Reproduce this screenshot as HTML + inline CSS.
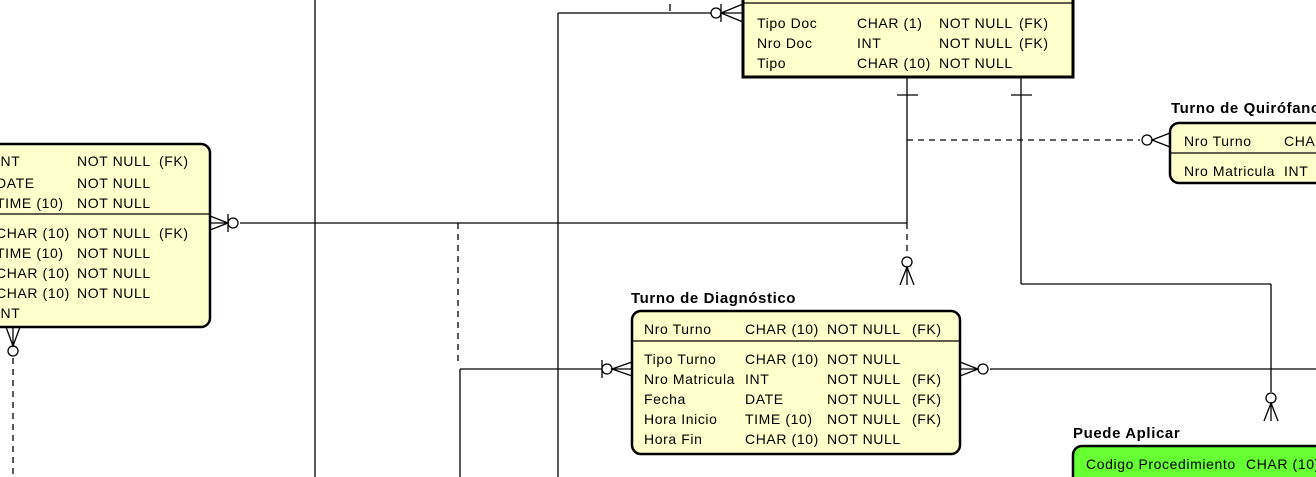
<!DOCTYPE html>
<html><head><meta charset="utf-8"><style>
html,body{margin:0;padding:0;background:#fff;width:1316px;height:477px;overflow:hidden;}
svg{display:block;font-family:"Liberation Sans",sans-serif;}
.t{font-size:14px;fill:#000;letter-spacing:0.6px;}
.h{font-size:15px;font-weight:bold;fill:#000;letter-spacing:0.6px;}
</style></head><body>
<svg width="1316" height="477" viewBox="0 0 1316 477" xmlns="http://www.w3.org/2000/svg" style="overflow:hidden">
<g stroke="#000" stroke-width="1.3" fill="none">
<line x1="315" y1="0" x2="315" y2="477"/>
<line x1="558" y1="13" x2="558" y2="477"/>
<line x1="558" y1="13" x2="718" y2="13"/>
<line x1="670" y1="4" x2="670" y2="11"/>
<line x1="240" y1="223" x2="907" y2="223"/>
<line x1="907" y1="78" x2="907" y2="223"/>
<line x1="460" y1="369" x2="460" y2="477"/>
<line x1="460" y1="369" x2="602" y2="369"/>
<line x1="1021" y1="78" x2="1021" y2="284"/>
<line x1="1021" y1="284" x2="1271" y2="284"/>
<line x1="1271" y1="284" x2="1271" y2="392"/>
<line x1="990" y1="369" x2="1316" y2="369"/>
<g stroke-dasharray="6,5">
<line x1="458" y1="223" x2="458" y2="366"/>
<line x1="907" y1="223" x2="907" y2="256"/>
<line x1="907" y1="140" x2="1140" y2="140"/>
<line x1="13" y1="358" x2="13" y2="477"/>
</g>
<line x1="897" y1="95" x2="918" y2="95"/>
<line x1="1011" y1="95" x2="1032" y2="95"/>
<line x1="228" y1="214" x2="228" y2="232"/>
<line x1="721" y1="4" x2="721" y2="22"/>
<line x1="602" y1="360" x2="602" y2="378"/>
<circle cx="233" cy="223" r="5" fill="#fff"/>
<circle cx="716" cy="13" r="5" fill="#fff"/>
<circle cx="607" cy="369" r="5" fill="#fff"/>
<circle cx="983" cy="369" r="5" fill="#fff"/>
<circle cx="907" cy="262" r="5" fill="#fff"/>
<circle cx="1147" cy="140" r="5" fill="#fff"/>
<circle cx="1271" cy="398" r="5" fill="#fff"/>
<circle cx="13" cy="351" r="5" fill="#fff"/>
<path d="M210 216 L228 223 L210 230 M210 223 L228 223"/>
<path d="M743 4 L721 13 L743 22 M721 13 L743 13"/>
<path d="M632 362 L612 369 L632 376 M612 369 L632 369"/>
<path d="M960 362 L978 369 L960 376 M960 369 L978 369"/>
<path d="M900 285 L907 267 L914 285 M907 267 L907 285"/>
<path d="M1170 133 L1152 140 L1170 147"/>
<path d="M1264 421 L1271 403 L1278 421 M1271 403 L1271 421"/>
<path d="M6 327 L13 346 L20 327 M13 327 L13 346"/>
</g>

<rect x="743" y="-10" width="330" height="87" fill="#ffffcc" stroke="#000" stroke-width="3"/>
<line x1="743" y1="3" x2="1073" y2="3" stroke="#000" stroke-width="1.3"/>
<g class="t">
<text x="757" y="28">Tipo Doc</text><text x="857" y="28">CHAR (1)</text><text x="939" y="28">NOT NULL</text><text x="1019" y="28">(FK)</text>
<text x="757" y="48">Nro Doc</text><text x="857" y="48">INT</text><text x="939" y="48">NOT NULL</text><text x="1019" y="48">(FK)</text>
<text x="757" y="68">Tipo</text><text x="857" y="68">CHAR (10)</text><text x="939" y="68">NOT NULL</text>
</g>

<rect x="-20" y="144" width="230" height="183" rx="9" fill="#ffffcc" stroke="#000" stroke-width="2.5"/>
<line x1="0" y1="214" x2="210" y2="214" stroke="#000" stroke-width="1.3"/>
<g class="t">
<text x="-4" y="166">INT</text><text x="77" y="166">NOT NULL</text><text x="159" y="166">(FK)</text>
<text x="-4" y="188">DATE</text><text x="77" y="188">NOT NULL</text>
<text x="-4" y="208">TIME (10)</text><text x="77" y="208">NOT NULL</text>
<text x="-4" y="238">CHAR (10)</text><text x="77" y="238">NOT NULL</text><text x="159" y="238">(FK)</text>
<text x="-4" y="258">TIME (10)</text><text x="77" y="258">NOT NULL</text>
<text x="-4" y="278">CHAR (10)</text><text x="77" y="278">NOT NULL</text>
<text x="-4" y="298">CHAR (10)</text><text x="77" y="298">NOT NULL</text>
<text x="-4" y="318">INT</text>
</g>

<text class="h" x="631" y="303">Turno de Diagnóstico</text>
<rect x="632" y="311" width="328" height="143" rx="9" fill="#ffffcc" stroke="#000" stroke-width="2.5"/>
<line x1="632" y1="341" x2="960" y2="341" stroke="#000" stroke-width="1.3"/>
<g class="t">
<text x="644" y="334">Nro Turno</text><text x="745" y="334">CHAR (10)</text><text x="827" y="334">NOT NULL</text><text x="912" y="334">(FK)</text>
<text x="644" y="364">Tipo Turno</text><text x="745" y="364">CHAR (10)</text><text x="827" y="364">NOT NULL</text>
<text x="644" y="384">Nro Matricula</text><text x="745" y="384">INT</text><text x="827" y="384">NOT NULL</text><text x="912" y="384">(FK)</text>
<text x="644" y="404">Fecha</text><text x="745" y="404">DATE</text><text x="827" y="404">NOT NULL</text><text x="912" y="404">(FK)</text>
<text x="644" y="424">Hora Inicio</text><text x="745" y="424">TIME (10)</text><text x="827" y="424">NOT NULL</text><text x="912" y="424">(FK)</text>
<text x="644" y="444">Hora Fin</text><text x="745" y="444">CHAR (10)</text><text x="827" y="444">NOT NULL</text>
</g>

<text class="h" x="1171" y="113">Turno de Quirófano</text>
<rect x="1170" y="123" width="180" height="60" rx="9" fill="#ffffcc" stroke="#000" stroke-width="2.5"/>
<line x1="1170" y1="153" x2="1316" y2="153" stroke="#000" stroke-width="1.3"/>
<g class="t">
<text x="1184" y="146">Nro Turno</text><text x="1284" y="146">CHAR (10)</text>
<text x="1184" y="176">Nro Matricula</text><text x="1284" y="176">INT</text>
</g>

<text class="h" x="1073" y="438">Puede Aplicar</text>
<rect x="1073" y="446" width="300" height="60" rx="9" fill="#66ff33" stroke="#000" stroke-width="2.5"/>
<g class="t">
<text x="1086" y="469">Codigo Procedimiento</text><text x="1246" y="469">CHAR (10)</text>
</g>
</svg>
</body></html>
